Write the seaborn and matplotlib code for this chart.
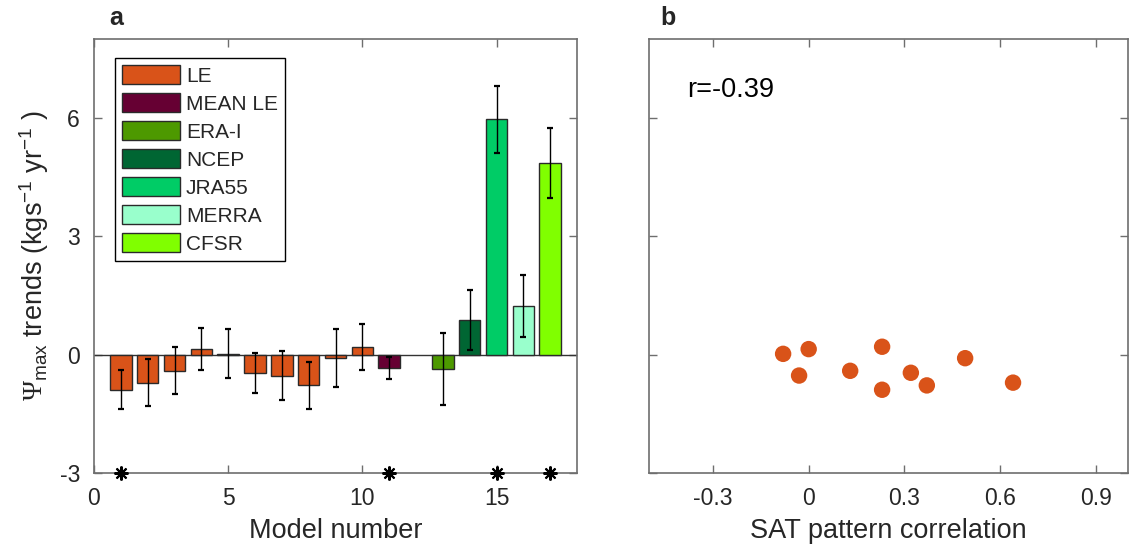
import numpy as np
import pandas as pd
import matplotlib
matplotlib.use("Agg")
import matplotlib.pyplot as plt
import seaborn as sns
from matplotlib.patches import Patch

# ---------------- data ----------------
model_number = [1, 2, 3, 4, 5, 6, 7, 8, 9, 10, 11, 13, 14, 15, 16, 17]
dataset = ["LE"] * 10 + ["MEAN LE", "ERA-I", "NCEP", "JRA55", "MERRA", "CFSR"]
trend = [-0.89, -0.71, -0.41, 0.14, 0.02, -0.46, -0.53, -0.78, -0.09, 0.20,
         -0.35, -0.36, 0.88, 5.96, 1.24, 4.86]
trend_err = [0.50, 0.60, 0.60, 0.53, 0.62, 0.51, 0.63, 0.59, 0.73, 0.58,
             0.28, 0.92, 0.77, 0.85, 0.79, 0.89]
significant_models = [1, 11, 15, 17]

legend_names = ["LE", "MEAN LE", "ERA-I", "NCEP", "JRA55", "MERRA", "CFSR"]
legend_colors = ["#D95319", "#660033", "#4D9900", "#006633", "#00CC66", "#99FFCC", "#80FF00"]

# SAT pattern correlation for LE members 1..10
sat_corr = [0.23, 0.64, 0.13, 0.00, -0.08, 0.32, -0.03, 0.37, 0.49, 0.23]
r_text = "r=-0.39"

x_ticks_a = [0, 5, 10, 15]
x_ticks_b = [-0.3, 0, 0.3, 0.6, 0.9]
x_ticklabels_b = ["-0.3", "0", "0.3", "0.6", "0.9"]
y_ticks = [-3, 0, 3, 6]
y_ticklabels = ["-3", "0", "3", "6"]

# ---------------- style ----------------
sns.set_style("white")
plt.rcParams["font.family"] = ["Liberation Sans", "DejaVu Sans"]
plt.rcParams["mathtext.fontset"] = "custom"
plt.rcParams["mathtext.rm"] = "Liberation Serif"
plt.rcParams["mathtext.sf"] = "Liberation Sans"
plt.rcParams["mathtext.it"] = "Liberation Sans:italic"

axis_col = "#6e6e6e"
text_col = "#262626"

fig = plt.figure(figsize=(11.3, 5.48), dpi=100)
ax_a = fig.add_axes([94 / 1130, 75 / 548, 483 / 1130, 434 / 548])
ax_b = fig.add_axes([649 / 1130, 75 / 548, 479 / 1130, 434 / 548])

df = pd.DataFrame({"model": model_number, "dataset": dataset, "trend": trend, "err": trend_err})
palette = dict(zip(legend_names, legend_colors))

# ---- panel a ----
ax_a.axhline(0, color="#333333", lw=1.0, zorder=1)
sns.barplot(data=df, x="model", y="trend", hue="dataset", palette=palette,
            native_scale=True, dodge=False, width=0.8, legend=False, saturation=1,
            edgecolor="#2a2a2a", linewidth=1.0, ax=ax_a, zorder=2, errorbar=None)
ax_a.errorbar(df["model"], df["trend"], yerr=df["err"], fmt="none",
              ecolor="black", elinewidth=1.0, capsize=2, capthick=1.6, zorder=3)
for m in significant_models:
    ax_a.plot([m], [-3], marker=(8, 2, 0), color="black", markersize=10,
              mew=1.5, clip_on=False, zorder=5)

ax_a.set_xlim(0, 18)
ax_a.set_ylim(-3, 8)
ax_a.set_xticks(x_ticks_a)
ax_a.set_xticklabels([str(t) for t in x_ticks_a])
ax_a.set_yticks(y_ticks)
ax_a.set_yticklabels(y_ticklabels)
ax_a.set_xlabel("Model number", fontsize=19.5, color=text_col, labelpad=6)
ax_a.set_ylabel(r"$\Psi_{\mathsf{max}}$ trends (kgs$^{\mathsf{-1}}$ yr$^{\mathsf{-1}}$ )",
                fontsize=19.5, color=text_col, labelpad=6)

handles = [Patch(facecolor=c, edgecolor="#2a2a2a", linewidth=1.0) for c in legend_colors]
leg = ax_a.legend(handles, legend_names, loc="upper left", bbox_to_anchor=(0.0435, 0.956),
                  borderaxespad=0, fontsize=15, frameon=True, fancybox=False,
                  edgecolor="black", framealpha=1, handlelength=2.75, handleheight=1.0,
                  handletextpad=0.3, labelspacing=0.36, borderpad=0.35)
leg.get_frame().set_linewidth(1.0)

# ---- panel b ----
sns.scatterplot(x=sat_corr, y=trend[:10], color="#D95319", s=140, edgecolor="none", ax=ax_b, zorder=3)
ax_b.set_xlim(-0.5, 1.0)
ax_b.set_ylim(-3, 8)
ax_b.set_xticks(x_ticks_b)
ax_b.set_xticklabels(x_ticklabels_b)
ax_b.set_yticks(y_ticks)
ax_b.set_yticklabels([])
ax_b.set_xlabel("SAT pattern correlation", fontsize=19.5, color=text_col, labelpad=6)
ax_b.text(-0.38, 6.7, r_text, fontsize=19.5, color="black", va="center", ha="left")

for ax in (ax_a, ax_b):
    for s in ax.spines.values():
        s.set_visible(True)
        s.set_color(axis_col)
        s.set_linewidth(1.2)
    ax.tick_params(direction="in", length=6, width=1.0, color=axis_col,
                   top=True, right=True, bottom=True, left=True,
                   labelsize=16.5, labelcolor=text_col)
    ax.tick_params(axis="x", pad=10)
    ax.tick_params(axis="y", pad=10)

fig.text(116 / 1130, 1 - 18 / 548, "a", fontsize=18, fontweight="bold", ha="center", va="center")
fig.text(668 / 1130, 1 - 18 / 548, "b", fontsize=18, fontweight="bold", ha="center", va="center")

fig.savefig("out.png", dpi=100)
